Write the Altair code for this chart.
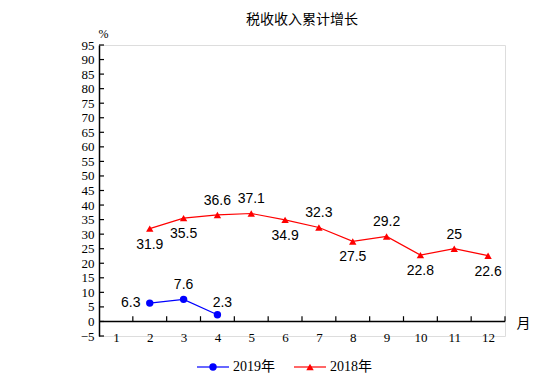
import altair as alt
import pandas as pd

months = list(range(1, 13))
months_2019 = [2, 3, 4]
values_2019 = [6.3, 7.6, 2.3]
pos_2019 = ["left", "above", "above-right"]
months_2018 = [2, 3, 4, 5, 6, 7, 8, 9, 10, 11, 12]
values_2018 = [31.9, 35.5, 36.6, 37.1, 34.9, 32.3, 27.5, 29.2, 22.8, 25, 22.6]
pos_2018 = ["below", "below", "above", "above", "below", "above", "below", "above", "below", "above", "below"]
y_ticks = list(range(-5, 100, 5))
x_tick_edges = [1.5, 2.5, 3.5, 4.5, 5.5, 6.5, 7.5, 8.5, 9.5, 10.5, 11.5, 12.5]

BLUE = "#0000FF"
RED = "#FF0000"
SERIF = "Liberation Serif, Noto Sans CJK SC"
SANS = "Liberation Sans, Arial"

df19 = pd.DataFrame({"month": months_2019, "value": values_2019, "pos": pos_2019,
                     "label": [str(v) for v in values_2019], "series": "2019年"})
df18 = pd.DataFrame({"month": months_2018, "value": values_2018, "pos": pos_2018,
                     "label": [str(v) for v in values_2018], "series": "2018年"})

W, H = 406, 291
xs = alt.Scale(domain=[0.5, 12.5], nice=False, zero=False)
ys = alt.Scale(domain=[-5, 95], nice=False, zero=False)

x_axis = alt.Axis(values=months, format="d", domain=False, ticks=False, tickSize=0, grid=False,
                  labelOverlap=False, labelFont=SERIF, labelFontSize=13, labelColor="#000",
                  labelPadding=1, labelBaseline="middle", title="月", titleFont="Noto Sans CJK SC",
                  titleFontSize=14, titleFontWeight="normal", titleColor="#000",
                  titleX=W + 18, titleY=-13, titleAlign="center", titleBaseline="middle",
                  titleAngle=0)
y_axis = alt.Axis(values=y_ticks, domain=True, domainColor="#000", domainWidth=1.5,
                  ticks=False, tickSize=0, grid=False, labelOverlap=False, labelFont=SERIF,
                  labelFontSize=13, labelColor="#000", labelPadding=5, title="%", titleFont=SERIF,
                  titleFontSize=12, titleFontWeight="normal", titleColor="#000",
                  titleAngle=0, titleX=4, titleY=-12, titleAlign="center",
                  titleBaseline="middle")


def X(field):
    return alt.X(field, scale=xs, axis=x_axis, title="月")


def Y(field):
    return alt.Y(field, scale=ys, axis=y_axis, title="%")


ytick_df = pd.DataFrame({"t": y_ticks})
xtick_df = pd.DataFrame({"t": x_tick_edges, "z": 0, "z2": 1.8})
zero_df = pd.DataFrame({"a": [0.5], "b": [12.5], "z": [0]})

y_tick_marks = alt.Chart(ytick_df).mark_rule(color="#000", strokeWidth=1.2).encode(
    x=alt.value(0), x2=alt.value(5), y=Y("t:Q"),
)
zero_line = alt.Chart(zero_df).mark_rule(color="#000", strokeWidth=1.5).encode(
    x=X("a:Q"), x2="b:Q", y=Y("z:Q")
)
x_ticks = alt.Chart(xtick_df).mark_rule(color="#000", strokeWidth=1.2).encode(
    x=X("t:Q"), y=Y("z:Q"), y2="z2:Q"
)


def series_layers(df, color, shape):
    enc = dict(x=X("month:Q"), y=Y("value:Q"))
    line = alt.Chart(df).mark_line(color=color, strokeWidth=1.2).encode(**enc)
    pts = alt.Chart(df).mark_point(color=color, shape=shape, filled=True, opacity=1, size=55).encode(**enc)
    layers = [line, pts]
    offsets = {"above": (0, -14), "below": (0, 16), "left": (-19, 0), "above-right": (5, -12)}
    for p, (dx, dy) in offsets.items():
        layers.append(
            alt.Chart(df).transform_filter(alt.datum.pos == p).mark_text(
                font=SANS, fontSize=14, color="#000", dx=dx, dy=dy, baseline="middle", align="center"
            ).encode(text="label:N", **enc)
        )
    return layers


def legend_entry(name, color, shape, x0):
    d = pd.DataFrame({"series": [name]})
    ly = H + 31
    return [
        alt.Chart(d).mark_rule(color=color, strokeWidth=1.2).encode(
            x=alt.value(x0), x2=alt.value(x0 + 32), y=alt.value(ly)),
        alt.Chart(d).mark_point(color=color, shape=shape, filled=True, opacity=1, size=55).encode(
            x=alt.value(x0 + 16), y=alt.value(ly)),
        alt.Chart(d).mark_text(font=SERIF, fontSize=14, color="#000", align="left", baseline="middle").encode(
            x=alt.value(x0 + 36), y=alt.value(ly), text="series:N"),
    ]


title_layer = alt.Chart(pd.DataFrame({"t": ["税收收入累计增长"]})).mark_text(
    font="Noto Sans CJK SC", fontSize=14, color="#000", align="center", baseline="middle"
).encode(x=alt.value(W / 2), y=alt.value(-25), text="t:N")

layers = [y_tick_marks, zero_line, x_ticks]
layers += series_layers(df19, BLUE, "circle")
layers += series_layers(df18, RED, "triangle-up")
layers += legend_entry("2019年", BLUE, "circle", 98)
layers += legend_entry("2018年", RED, "triangle-up", 195)
layers.append(title_layer)

chart = alt.layer(*layers).properties(
    width=W, height=H,
    autosize=alt.AutoSizeParams(type="none"),
    padding={"left": 91, "top": 37, "right": 40, "bottom": 40},
).configure_view(stroke=None, strokeWidth=0).configure(background="white")

chart.save("out.html", embed_options={"renderer": "svg", "actions": False})
